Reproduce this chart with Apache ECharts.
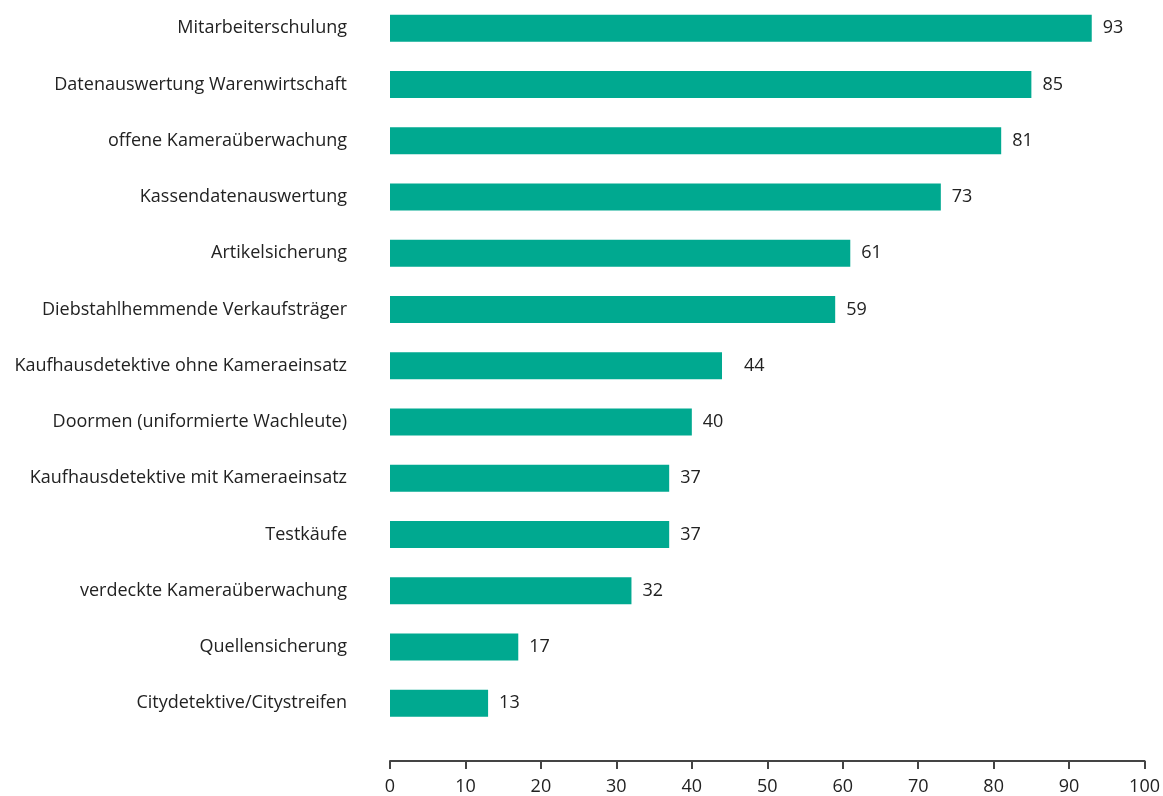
<!DOCTYPE html>
<html>
<head>
<meta charset="utf-8">
<script src="https://cdn.jsdelivr.net/npm/echarts@6/dist/echarts.min.js"></script>
<style>
html,body{margin:0;padding:0;background:#fff;}
#chart{width:1163px;height:796px;}
</style>
</head>
<body>
<div id="chart"></div>
<script>
const categories = [
  "Mitarbeiterschulung",
  "Datenauswertung Warenwirtschaft",
  "offene Kameraüberwachung",
  "Kassendatenauswertung",
  "Artikelsicherung",
  "Diebstahlhemmende Verkaufsträger",
  "Kaufhausdetektive ohne Kameraeinsatz",
  "Doormen (uniformierte Wachleute)",
  "Kaufhausdetektive mit Kameraeinsatz",
  "Testkäufe",
  "verdeckte Kameraüberwachung",
  "Quellensicherung",
  "Citydetektive/Citystreifen"
];
const values = [93, 85, 81, 73, 61, 59, 44, 40, 37, 37, 32, 17, 13];
const xTicks = [0, 10, 20, 30, 40, 50, 60, 70, 80, 90, 100];

const FONT = '"Open Sans", "Noto Sans", sans-serif';
const chart = echarts.init(document.getElementById('chart'), null, {renderer: 'canvas'});
const data = values.map((v, i) => ({
  value: v,
  label: { distance: (categories[i].indexOf('ohne') >= 0) ? 22 : 11 }
}));
chart.setOption({
  animation: false,
  grid: { left: 390, right: 17, top: -0.8, bottom: 64.5, containLabel: false },
  xAxis: {
    type: 'value', min: xTicks[0], max: xTicks[xTicks.length - 1], interval: 10,
    offset: 29.5,
    axisLine: { show: true, lineStyle: { color: '#444', width: 2 } },
    axisTick: { show: true, length: 8, lineStyle: { color: '#444', width: 2 } },
    splitLine: { show: false },
    axisLabel: { color: '#222', fontSize: 18, fontFamily: FONT, margin: 17 }
  },
  yAxis: {
    type: 'category', inverse: true, data: categories,
    axisLine: { show: false }, axisTick: { show: false },
    axisLabel: { color: '#222', fontSize: 18, fontFamily: FONT, margin: 43 }
  },
  series: [{
    type: 'bar', data: data, barWidth: 27,
    itemStyle: { color: '#00a990' },
    label: { show: true, position: 'right', color: '#222', fontSize: 18, fontFamily: FONT }
  }]
});
</script>
</body>
</html>
